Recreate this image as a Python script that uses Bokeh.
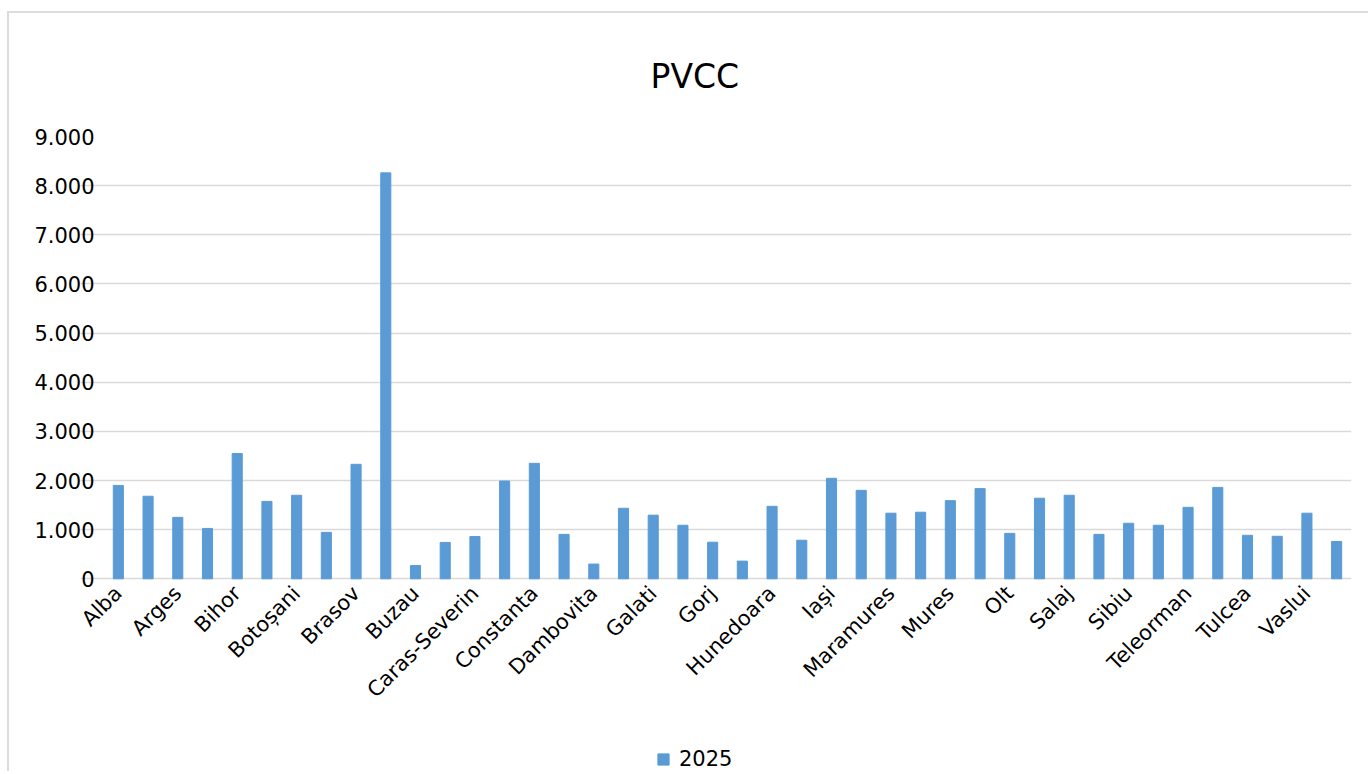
import math
from bokeh.plotting import figure
from bokeh.models import FixedTicker, Range1d, Legend, ColumnDataSource
from bokeh.core.properties import value
from bokeh.embed import file_html
from bokeh.resources import INLINE

counties = ["Alba", "Arad", "Arges", "Bacau", "Bihor", "Bistrita-Nasaud", "Botoșani", "Braila",
            "Brasov", "Bucuresti", "Buzau", "Calarasi", "Caras-Severin", "Cluj", "Constanta",
            "Covasna", "Dambovita", "Dolj", "Galati", "Giurgiu", "Gorj", "Harghita", "Hunedoara",
            "Ialomita", "Iași", "Ilfov", "Maramures", "Mehedinti", "Mures", "Neamt", "Olt",
            "Prahova", "Salaj", "Satu Mare", "Sibiu", "Suceava", "Teleorman", "Timis", "Tulcea",
            "Valcea", "Vaslui", "Vrancea"]
values_2025 = [1900, 1680, 1250, 1025, 2550, 1575, 1700, 945, 2330, 8260,
               270, 740, 860, 1990, 2350, 905, 300, 1435, 1295, 1090,
               745, 360, 1475, 785, 2045, 1800, 1335, 1355, 1590, 1835,
               925, 1640, 1700, 905, 1130, 1090, 1455, 1860, 885, 865,
               1335, 760]
y_ticks = [0, 1000, 2000, 3000, 4000, 5000, 6000, 7000, 8000, 9000]
y_tick_labels = ["0", "1.000", "2.000", "3.000", "4.000", "5.000", "6.000", "7.000", "8.000", "9.000"]
series_name = "2025"
title_text = "PVCC"

FONT = "DejaVu Sans"
GRID = "#d9d9d9"
BAR = "#5b9bd5"

x = list(range(len(counties)))
n = len(counties)
y_top = max(y_ticks)
# frame: 443 px for the 0..9000 span, plus 195 px below zero for the category labels and legend
y_bottom = -y_top * 195 / 443
# 23 px of extra room on the left so that the first rotated label is not clipped
x_left = -0.5 - 23 / 29.714

p = figure(width=1361, height=760, output_backend="svg", toolbar_location=None,
           x_axis_location=None,
           x_range=Range1d(x_left, n - 0.5), y_range=Range1d(y_bottom, y_top),
           min_border_left=71, min_border_right=19, min_border_top=122, min_border_bottom=0)
p.styles = {"border-left": "2px solid #dcdcdc", "border-top": "2px solid #dcdcdc",
            "margin-top": "11px", "margin-left": "7px"}

bars = p.vbar(x=x, top=values_2025, width=0.34, color=BAR)

# category labels (every second county, as in the reference)
lab_src = ColumnDataSource(dict(x=x[::2], y=[0] * len(x[::2]), t=counties[::2]))
p.text(x="x", y="y", text="t", source=lab_src, angle=math.pi / 4,
       text_align="right", text_baseline="middle", y_offset=11, x_offset=0,
       text_font=value(FONT), text_font_size="21px", text_color="#000000")

p.title.text = title_text
p.title.align = "left"
p.title.offset = 570
p.title.text_font = FONT
p.title.text_font_size = "33px"
p.title.text_font_style = "normal"
p.title.text_color = "#000000"
p.title.standoff = 82

p.outline_line_color = None
p.xgrid.visible = False
p.ygrid.ticker = FixedTicker(ticks=y_ticks)
p.ygrid.bounds = (-0.5, n - 0.5)
p.ygrid.grid_line_color = GRID
p.ygrid.grid_line_width = 1.5

p.yaxis.ticker = FixedTicker(ticks=y_ticks)
p.yaxis.major_label_overrides = {t: l for t, l in zip(y_ticks, y_tick_labels)}
p.yaxis.axis_line_color = None
p.yaxis.major_tick_line_color = None
p.yaxis.minor_tick_line_color = None
p.yaxis.major_tick_out = 0
p.yaxis.major_label_standoff = -14
p.yaxis.major_label_text_font = FONT
p.yaxis.major_label_text_font_size = "21px"
p.yaxis.major_label_text_color = "#000000"

lg = Legend(items=[(series_name, [bars])], location=(576, 2), orientation="horizontal",
            background_fill_alpha=0, border_line_color=None, padding=0, margin=0,
            glyph_width=14, glyph_height=14, label_standoff=9,
            label_text_font=FONT, label_text_font_size="21px", label_text_color="#000000")
p.add_layout(lg)

open("out.html", "w").write(file_html(p, INLINE))
